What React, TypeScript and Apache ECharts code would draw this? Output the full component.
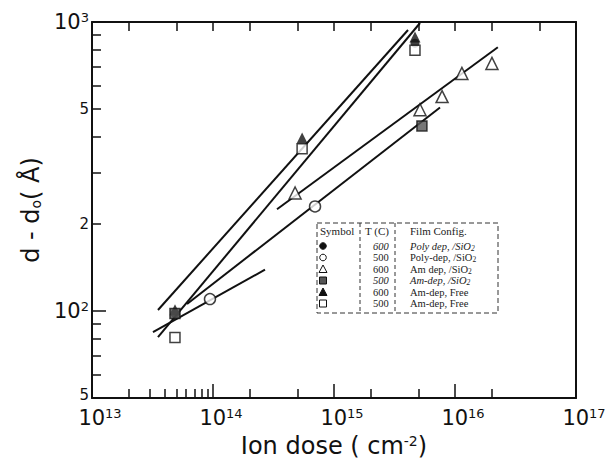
import React, { useEffect, useRef } from 'react';
import * as echarts from 'echarts';

// ---- axis ticks / labels ----
const xMajorTicks = [1e13, 1e14, 1e15, 1e16, 1e17];
const xMinorBottom = [2e13, 3e13, 4e13, 5e13, 6e13, 7e13, 8e13, 9e13, 2e14, 5e14, 2e15, 5e15, 2e16];
const xTopTicks = [2e13, 5e13, 1e14, 2e14, 5e14, 1e15, 2e15, 5e15, 1e16, 2e16, 5e16];
const yLabelValues = [50, 100, 200, 500, 1000];
const yMajorTicks = [100, 1000];
const yMinorTicks = [60, 70, 80, 90, 200, 300, 400, 500, 600, 700, 800, 900];

// ---- measured points [ion dose (cm^-2), d - d0 (Å)] ----
const polySiO2_600 = [[4.85e13, 98], [4.67e15, 845]];
const polySiO2_500 = [[9.44e13, 110], [6.97e14, 230]];
const amSiO2_600 = [[4.77e14, 256], [5.14e15, 497], [7.82e15, 552], [1.14e16, 664], [2.02e16, 719]];
const amSiO2_500 = [[4.85e13, 98], [5.33e15, 437]];
const amFree_600 = [[4.85e13, 101], [5.45e14, 397], [4.67e15, 887]];
const amFree_500 = [[4.85e13, 81], [5.45e14, 364], [4.67e15, 798]];

// ---- fitted lines drawn in the figure ----
const line1 = [[3.51e13, 100.8], [4.09e15, 938]];
const line2 = [[3.51e13, 81.2], [5.14e15, 992]];
const line3 = [[6.1e13, 105.8], [7.52e15, 506]];
const line4 = [[3.19e13, 84.5], [2.69e14, 139]];
const line5 = [[3.38e14, 225], [2.26e16, 818]];

// ---- table (legend) ----
const tableHeader = ['Symbol', 'T (C)', 'Film Config.'];
const tableTemps = ['600', '500', '600', '500', '600', '500'];
const tableConfigs = [
  'Poly dep, /SiO{s|2}',
  'Poly-dep, /SiO{s|2}',
  'Am dep, /SiO{s|2}',
  'Am-dep, /SiO{s|2}',
  'Am-dep, Free',
  'Am-dep, Free',
];
const tableItalic = [true, false, false, true, false, false];
const tableSymbols = ['fcircle', 'ocircle', 'otri', 'hsquare', 'ftri', 'osquare'];

const FONT = 'DejaVu Sans';
const SERIF = 'Liberation Serif';
const INK = '#111';

function buildTable() {
  const l = 317, t = 223, r = 498, b = 313, c1 = 360, c2 = 395;
  const els: any[] = [];
  els.push({
    type: 'rect', z: 100,
    shape: { x: l, y: t, width: r - l, height: b - t },
    style: { fill: '#fff', stroke: '#333', lineWidth: 1, lineDash: [5, 3] },
  });
  [c1, c2].forEach((cx) =>
    els.push({
      type: 'line', z: 101,
      shape: { x1: cx, y1: t, x2: cx, y2: b },
      style: { stroke: '#333', lineWidth: 1, lineDash: [4, 3] },
    })
  );
  const hx = [320, 365, 410];
  tableHeader.forEach((h, i) =>
    els.push({
      type: 'text', z: 102, x: hx[i], y: 231,
      style: { text: h, fontFamily: SERIF, fontSize: 11, fill: '#222', align: 'left', verticalAlign: 'middle' },
    })
  );
  for (let i = 0; i < tableTemps.length; i++) {
    const y = 246 + i * 11.5;
    const fs = tableItalic[i] ? 'italic' : 'normal';
    els.push({
      type: 'text', z: 102, x: 373, y,
      style: { text: tableTemps[i], fontFamily: SERIF, fontSize: 10.5, fontStyle: fs, fill: '#222', align: 'left', verticalAlign: 'middle' },
    });
    els.push({
      type: 'text', z: 102, x: 410, y,
      style: {
        text: tableConfigs[i], fontFamily: SERIF, fontSize: 10.5, fontStyle: fs, fill: '#222', align: 'left', verticalAlign: 'middle',
        rich: { s: { fontFamily: SERIF, fontSize: 7.5, fontStyle: fs, fill: '#222', verticalAlign: 'bottom', padding: [4, 0, 0, 0] } },
      },
    });
    const sx = 323;
    const kind = tableSymbols[i];
    if (kind === 'fcircle' || kind === 'ocircle') {
      els.push({
        type: 'circle', z: 102, shape: { cx: sx, cy: y, r: 3.3 },
        style: { fill: kind === 'fcircle' ? INK : '#fff', stroke: INK, lineWidth: 1 },
      });
    } else if (kind === 'otri' || kind === 'ftri') {
      els.push({
        type: 'polygon', z: 102,
        shape: { points: [[sx, y - 4], [sx - 4, y + 3.5], [sx + 4, y + 3.5]] },
        style: { fill: kind === 'ftri' ? INK : '#fff', stroke: INK, lineWidth: 1 },
      });
    } else {
      els.push({
        type: 'rect', z: 102, shape: { x: sx - 3.5, y: y - 3.5, width: 7, height: 7 },
        style: { fill: kind === 'hsquare' ? '#555' : '#fff', stroke: INK, lineWidth: 1 },
      });
    }
  }
  return els;
}

function xLabel(v: number) {
  const e = Math.round(Math.log10(v));
  return `{b|10}{s|${e}}`;
}
function yLabel(v: number) {
  const r = Math.round(v);
  if (r === 1000) return '{b|10}{s|3}';
  if (r === 100) return '{b|10}{s|2}';
  if (r === 50) return '{low|5}';
  return `{m|${String(r).charAt(0)}}`;
}

const labelRich = {
  b: { fontFamily: FONT, fontSize: 21, color: INK, lineHeight: 22 },
  s: { fontFamily: FONT, fontSize: 13, color: INK, verticalAlign: 'top', lineHeight: 13 },
  m: { fontFamily: FONT, fontSize: 15, color: INK },
  low: { fontFamily: FONT, fontSize: 15, color: INK, lineHeight: 15, padding: [0, 0, 6, 0] },
};

export default function App() {
  const ref = useRef<HTMLDivElement>(null);
  useEffect(() => {
    const chart = echarts.init(ref.current!, null, { renderer: 'svg' });
    const axisLineStyle = { color: INK, width: 2 };
    const lineSeries = (data: number[][]) => ({
      type: 'line', data, symbol: 'none', showSymbol: false, silent: true,
      lineStyle: { color: INK, width: 2 }, z: 2,
    });
    const openStyle = { color: '#fff', borderColor: INK, borderWidth: 1.5 };
    const option: any = {
      animation: false,
      backgroundColor: '#fff',
      grid: { left: 92, right: 36, top: 22, bottom: 68 },
      xAxis: [
        {
          type: 'log', logBase: 10, min: 1e13, max: 1e17, position: 'bottom',
          name: 'Ion dose ( cm{sup|-2})', nameLocation: 'middle', nameGap: 36,
          nameTextStyle: {
            fontFamily: FONT, fontSize: 24, color: INK,
            rich: { sup: { fontFamily: FONT, fontSize: 14, color: INK, verticalAlign: 'top', lineHeight: 14 } },
          },
          axisLine: { lineStyle: axisLineStyle },
          axisTick: { inside: true, length: 14, customValues: xMajorTicks, lineStyle: { color: INK, width: 1.5 } },
          axisLabel: { customValues: xMajorTicks, formatter: xLabel, rich: labelRich, margin: 9, padding: [0, 0, 0, 16] },
          splitLine: { show: false }, minorTick: { show: false },
        },
        {
          type: 'log', logBase: 10, min: 1e13, max: 1e17, position: 'bottom',
          axisLine: { show: false },
          axisTick: { inside: true, length: 9, customValues: xMinorBottom, lineStyle: { color: INK, width: 1.5 } },
          axisLabel: { show: false }, splitLine: { show: false },
        },
        {
          type: 'log', logBase: 10, min: 1e13, max: 1e17, position: 'top',
          axisLine: { lineStyle: axisLineStyle },
          axisTick: { inside: true, length: 9, customValues: xTopTicks, lineStyle: { color: INK, width: 1.5 } },
          axisLabel: { show: false }, splitLine: { show: false },
        },
      ],
      yAxis: [
        {
          type: 'log', logBase: 10, min: 50, max: 1000, position: 'left',
          name: 'd - d{o|o}( Å)', nameLocation: 'middle', nameGap: 44,
          nameTextStyle: {
            fontFamily: FONT, fontSize: 24, color: INK,
            rich: { o: { fontFamily: FONT, fontSize: 14, color: INK, verticalAlign: 'bottom', padding: [8, 0, 0, 0] } },
          },
          axisLine: { lineStyle: axisLineStyle },
          axisTick: { inside: true, length: 14, customValues: yMajorTicks, lineStyle: { color: INK, width: 1.5 } },
          axisLabel: { customValues: yLabelValues, formatter: yLabel, rich: labelRich, margin: 3 },
          splitLine: { show: false }, minorTick: { show: false },
        },
        {
          type: 'log', logBase: 10, min: 50, max: 1000, position: 'left',
          axisLine: { show: false },
          axisTick: { inside: true, length: 9, customValues: yMinorTicks, lineStyle: { color: INK, width: 1.5 } },
          axisLabel: { show: false }, splitLine: { show: false },
        },
        {
          type: 'log', logBase: 10, min: 50, max: 1000, position: 'right',
          axisLine: { lineStyle: axisLineStyle },
          axisTick: { show: false },
          axisLabel: { show: false }, splitLine: { show: false },
        },
      ],
      series: [
        lineSeries(line1),
        lineSeries(line2),
        lineSeries(line3),
        lineSeries(line4),
        lineSeries(line5),
        { name: 'Am-dep Free 600', type: 'scatter', data: amFree_600, symbol: 'triangle', symbolSize: [11, 11], itemStyle: { color: INK }, z: 3 },
        { name: 'Poly dep SiO2 600', type: 'scatter', data: polySiO2_600, symbol: 'circle', symbolSize: 9, itemStyle: { color: INK }, z: 3 },
        { name: 'Am-dep SiO2 500', type: 'scatter', data: amSiO2_500, symbol: 'rect', symbolSize: 10, itemStyle: { color: '#555', borderColor: INK, borderWidth: 1.5 }, z: 4 },
        { name: 'Am-dep Free 500', type: 'scatter', data: amFree_500, symbol: 'rect', symbolSize: 10, itemStyle: openStyle, z: 4 },
        { name: 'Poly-dep SiO2 500', type: 'scatter', data: polySiO2_500, symbol: 'circle', symbolSize: 11, itemStyle: openStyle, z: 4 },
        { name: 'Am dep SiO2 600', type: 'scatter', data: amSiO2_600, symbol: 'triangle', symbolSize: [12, 12], itemStyle: openStyle, z: 4 },
      ],
      graphic: buildTable(),
    };
    chart.setOption(option);
    return () => chart.dispose();
  }, []);
  return <div ref={ref} style={{ position: 'fixed', left: 0, top: 0, width: 612, height: 466 }} />;
}
